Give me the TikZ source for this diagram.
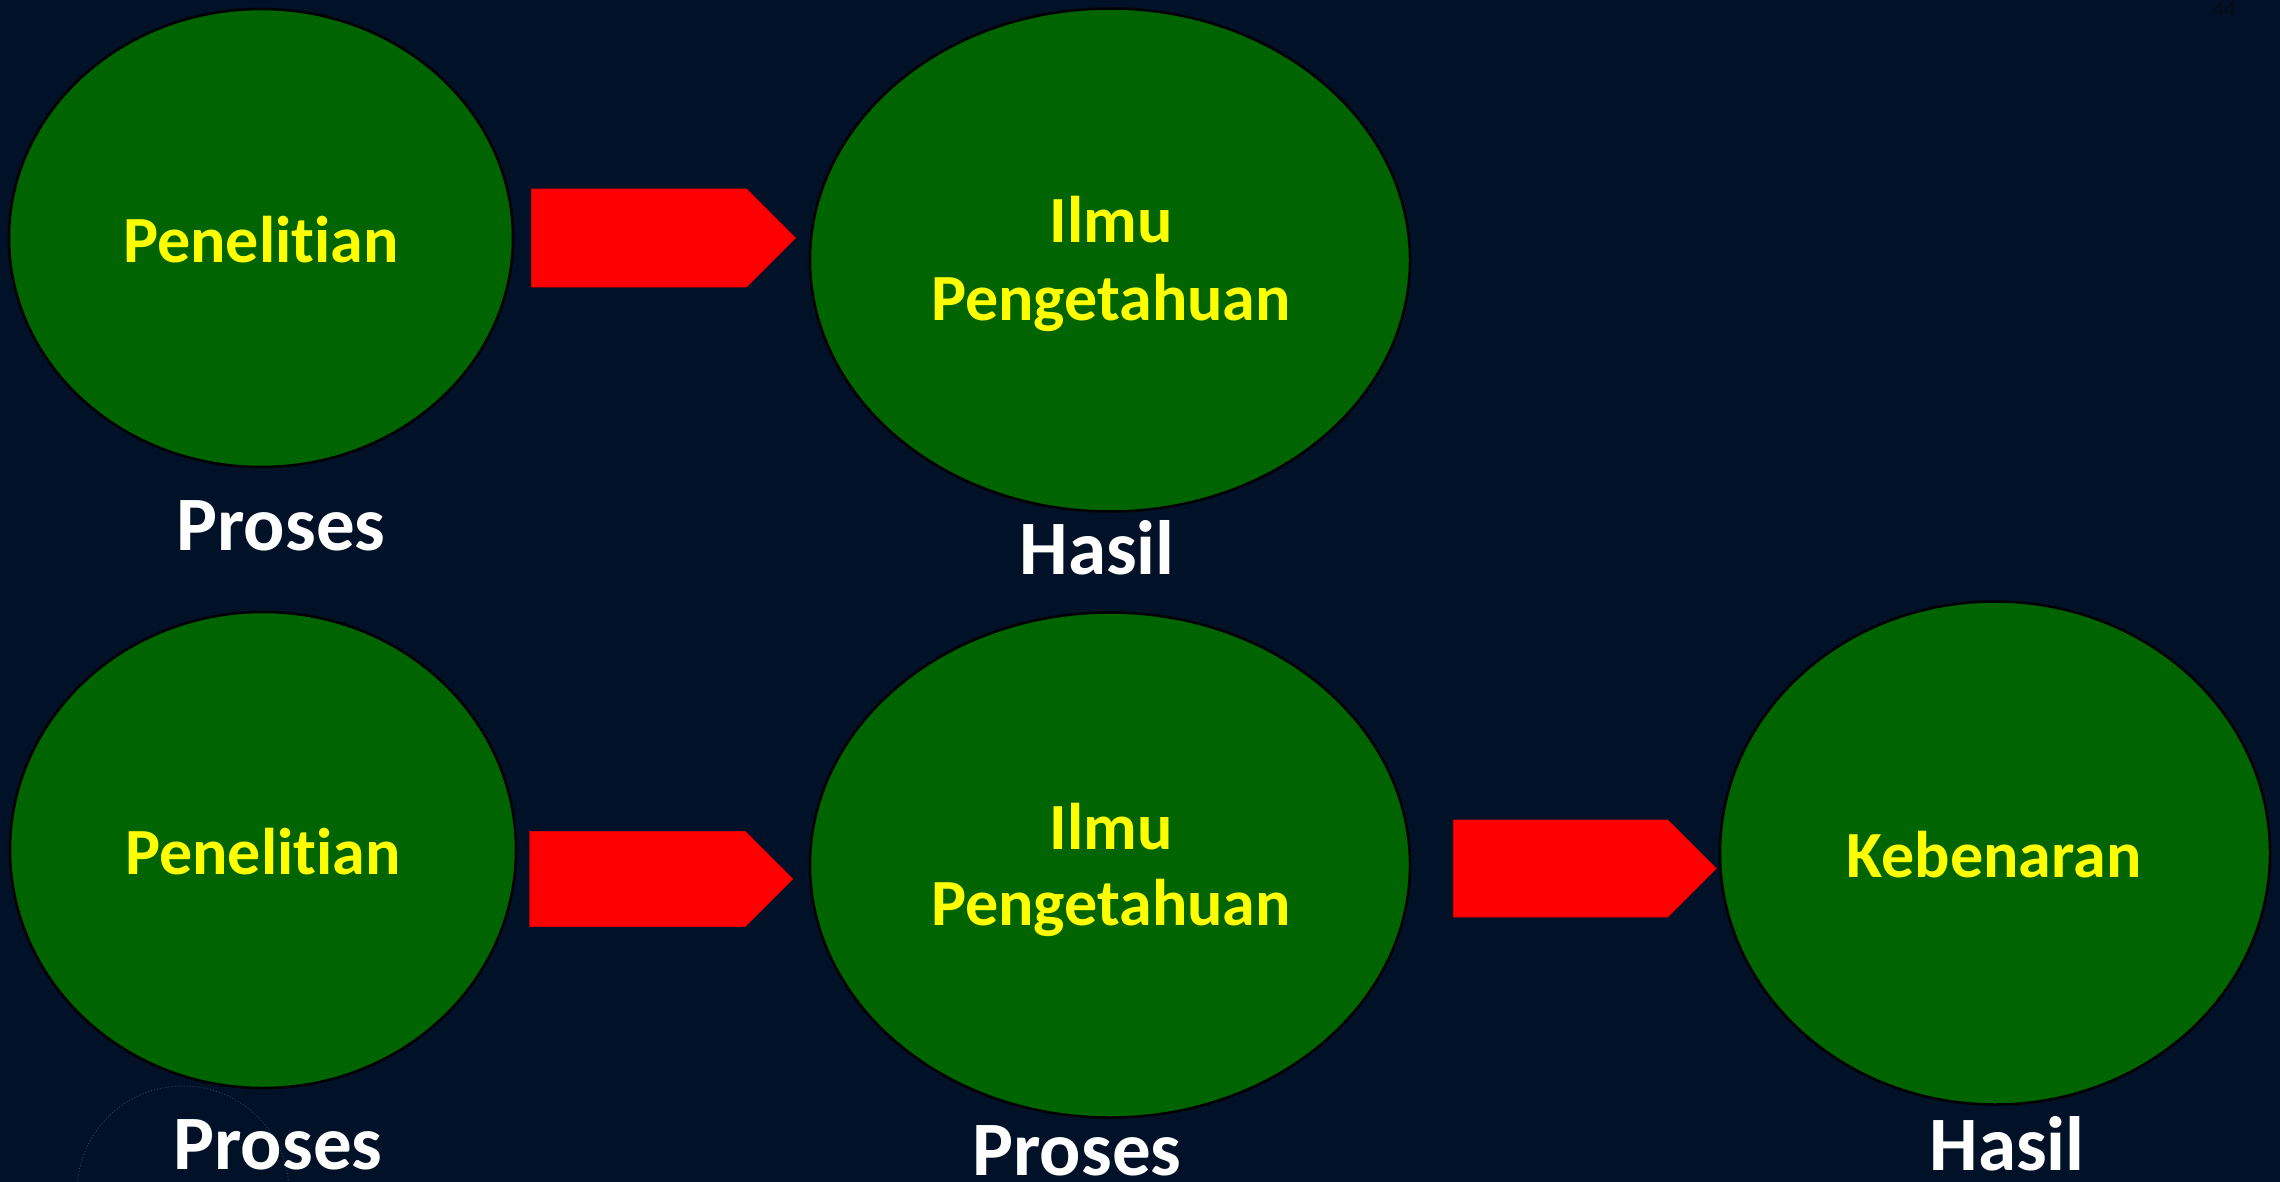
\documentclass[tikz,border=0pt]{standalone}
\usepackage{fontspec}
\setmainfont[Ligatures={NoCommon}]{Carlito}
\usetikzlibrary{shapes.geometric,shapes.arrows}
\definecolor{bg}{HTML}{001128}
\definecolor{leaf}{HTML}{006400}
\definecolor{lbl}{HTML}{FFFF00}
\definecolor{decoline}{HTML}{2A3A58}
\definecolor{pagenum}{HTML}{060B16}
\begin{document}
\begin{tikzpicture}[x=1pt,y=-1pt,
  blob/.style={ellipse, fill=leaf, draw=black, line width=2.5pt, inner sep=0pt},
  blockarrow/.style={single arrow, fill=red, draw=red!85!black, line width=0.8pt,
    single arrow head extend=0pt, single arrow tip angle=90, inner sep=0pt,
    minimum height=264pt},
  intext/.style={text=lbl, font=\bfseries\fontsize{66}{77}\selectfont, anchor=base, inner sep=0pt},
  caption/.style={text=white, font=\bfseries\fontsize{77}{90}\selectfont, anchor=base, inner sep=0pt}]
\fill[bg] (0,0) rectangle (2280,1182);
\useasboundingbox (0,0) rectangle (2280,1182);

% page number (nearly invisible)
\node[text=pagenum, font=\fontsize{22}{26}\selectfont, anchor=base, inner sep=0pt] (pgnum) at (2224,17) {44};

% faint decorative circle
\node[circle, draw=decoline, dotted, line width=1pt, minimum size=212pt, inner sep=0pt] (deco) at (183,1192) {};

% top row
\node[blob, minimum width=504pt, minimum height=458pt] (pen1) at (261,238) {};
\node[blob, minimum width=600pt, minimum height=503pt] (ilmu1) at (1110,260) {};
\node[blockarrow, minimum width=98pt] (arr1) at (639,238) {};
\node[intext] (tpen1) at (261,263) {Penelitian};
\node[intext] (tilmu1) at (1111,243) {Ilmu};
\node[intext] (tpeng1) at (1111,320) {Pengetahuan};
\node[caption] (cproses1) at (281,550) {Proses};
\node[caption] (chasil1) at (1097,574) {Hasil};

% bottom row
\node[blob, minimum width=506pt, minimum height=476pt] (pen2) at (263,850) {};
\node[blob, minimum width=600pt, minimum height=505pt] (ilmu2) at (1110,865) {};
\node[blob, minimum width=550pt, minimum height=503pt] (keb) at (1995,853) {};
\node[blockarrow, minimum width=95pt, minimum height=263pt] (arr2) at (637.5,879) {};
\node[blockarrow, minimum width=97pt, minimum height=263pt] (arr3) at (1560.5,868.5) {};
\node[intext] (tpen2) at (263,874) {Penelitian};
\node[intext] (tilmu2) at (1111,849) {Ilmu};
\node[intext] (tpeng2) at (1111,925) {Pengetahuan};
\node[intext] (tkeb) at (1994,877) {Kebenaran};
\node[caption] (cproses2) at (278,1169) {Proses};
\node[caption] (cproses3) at (1077,1175) {Proses};
\node[caption] (chasil2) at (2007,1170) {Hasil};
\end{tikzpicture}
\end{document}
